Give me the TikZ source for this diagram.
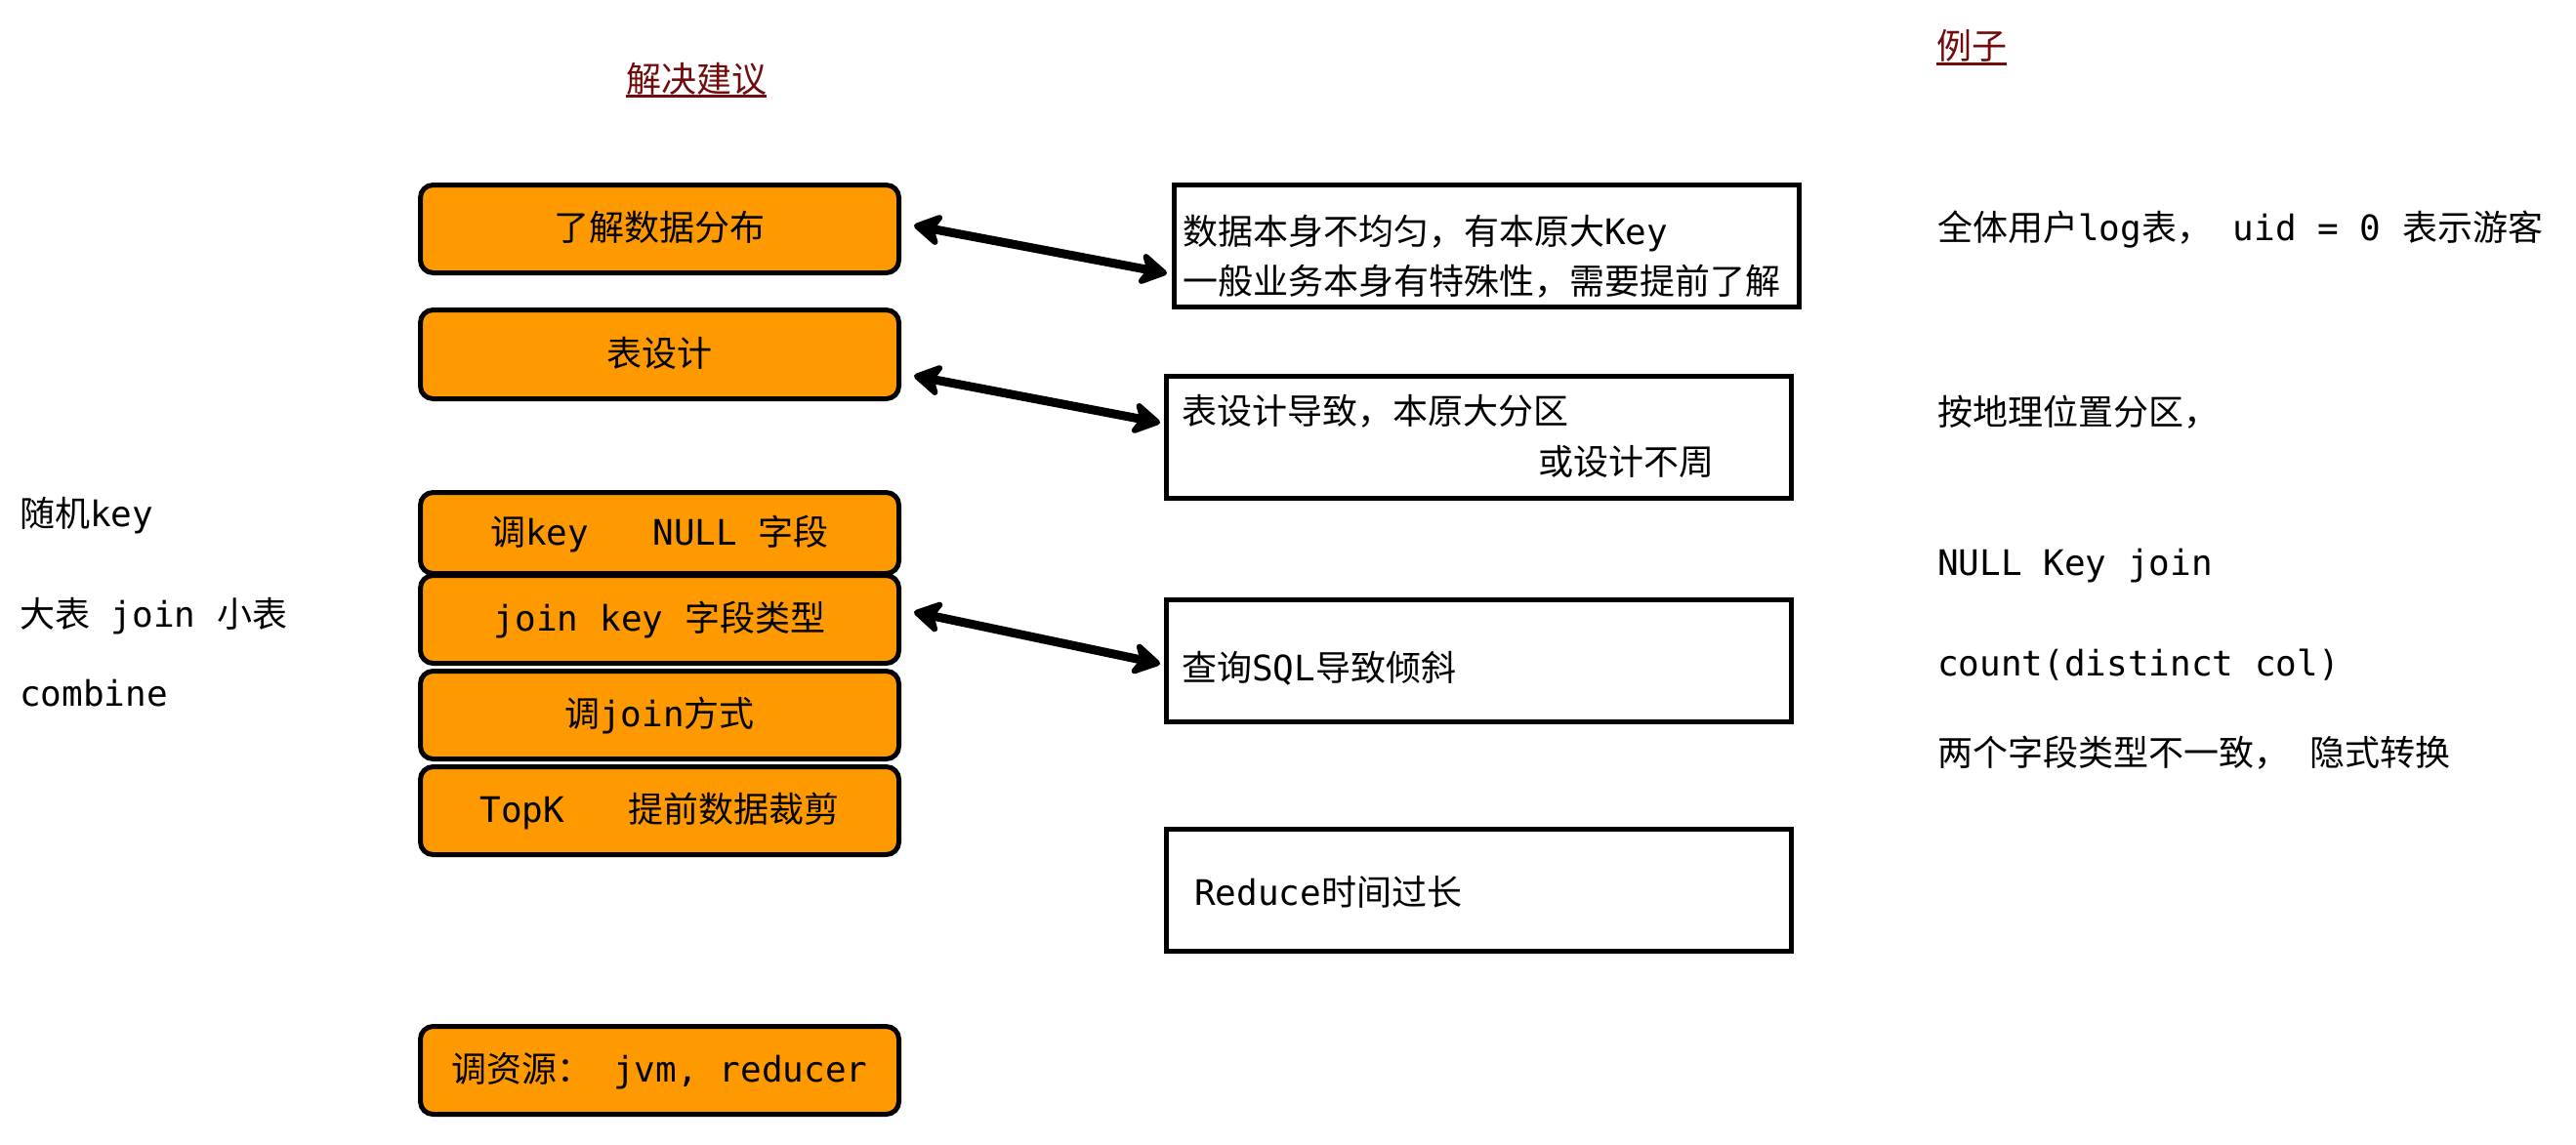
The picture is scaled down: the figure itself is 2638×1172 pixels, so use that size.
\documentclass[tikz,border=0pt]{standalone}
\usepackage{fontspec}
\setmainfont{DejaVu Sans Mono}
\newfontfamily\cjk{Noto Sans CJK SC}
\usetikzlibrary{arrows.meta}
\definecolor{boxorange}{RGB}{255,153,0}
\definecolor{titlered}{RGB}{112,12,12}
\newcommand\zh[1]{{\cjk #1}}
\newcommand\bigfont{\fontsize{36}{52}\selectfont}
\tikzset{
  obox/.style={draw=black, line width=5pt, fill=boxorange, rounded corners=13pt,
    minimum width=490pt, inner sep=0pt, font=\bigfont, text height=30pt, text depth=6pt},
  wbox/.style={draw=black, line width=5pt, fill=white, inner sep=0pt,
    minimum width=640pt, minimum height=125pt},
  txt/.style={inner sep=0pt, anchor=base west, font=\bigfont},
  ttl/.style={txt, text=titlered},
  uline/.style={draw=titlered, line width=3pt},
  dbl/.style={line width=9pt,
    {Stealth[length=34pt,width=40pt,inset=10pt,round]}-{Stealth[length=34pt,width=40pt,inset=10pt,round]}},
}
\begin{document}
\begin{tikzpicture}[x=1pt,y=-1pt]
\path[use as bounding box] (0,0) rectangle (2638,1172);

% titles
\node[ttl] (t1) at (641,94.5) {\zh{解决建议}};
\draw[uline] ([yshift=-4pt]t1.base west) -- ([yshift=-4pt]t1.base east);
\node[ttl] (t2) at (1983,61) {\zh{例子}};
\draw[uline] ([yshift=-5pt]t2.base west) -- ([yshift=-5pt]t2.base east);

% orange boxes
\node[obox, minimum height=90pt] (b1) at (675.5,234.5) {\zh{了解数据分布}};
\node[obox, minimum height=91pt] (b2) at (675.5,363) {\zh{表设计}};
\node[obox, minimum height=83pt] (b3) at (675.5,546) {\zh{调}key~~~NULL \zh{字段}};
\node[obox, minimum height=90pt] (b4) at (675.5,634.5) {join key \zh{字段类型}};
\node[obox, minimum height=90pt] (b5) at (675.5,732.5) {\zh{调}join\zh{方式}};
\node[obox, minimum height=90pt] (b6) at (675.5,830.5) {TopK~~~\zh{提前数据裁剪}};
\node[obox, minimum height=90pt] (b7) at (675.5,1096.5) {\zh{调资源：}~jvm, reducer};

% white boxes
\node[wbox] (w1) at (1522.5,252) {};
\node[wbox] (w2) at (1514.5,448) {};
\node[wbox] (w3) at (1514.5,677) {};
\node[wbox] (w4) at (1514.5,912) {};

\node[txt] (w1a) at (1211,250) {\zh{数据本身不均匀，有本原大}Key};
\node[txt] (w1b) at (1211,301) {\zh{一般业务本身有特殊性，需要提前了解}};
\node[txt] (w2a) at (1210,434) {\zh{表设计导致，本原大分区}};
\node[txt] (w2b) at (1575,486) {\zh{或设计不周}};
\node[txt] (w3t) at (1210,697) {\zh{查询}SQL\zh{导致倾斜}};
\node[txt] (w4t) at (1223,927) {Reduce\zh{时间过长}};

% arrows
\coordinate (a1l) at (936,231);  \coordinate (a1r) at (1195,280);
\coordinate (a2l) at (936,385);  \coordinate (a2r) at (1188,433);
\coordinate (a3l) at (936,627);  \coordinate (a3r) at (1188,680);
\draw[dbl] (a1l) -- (a1r);
\draw[dbl] (a2l) -- (a2r);
\draw[dbl] (a3l) -- (a3r);

% left notes
\node[txt] (l1) at (20,539) {\zh{随机}key};
\node[txt] (l2) at (20,642) {\zh{大表} join \zh{小表}};
\node[txt] (l3) at (20,723) {combine};

% right examples
\node[txt] (r1) at (1984,246) {\zh{全体用户}log\zh{表，}~uid = 0 \zh{表示游客}};
\node[txt] (r2) at (1984,435) {\zh{按地理位置分区，}};
\node[txt] (r3) at (1984,589) {NULL Key join};
\node[txt] (r4) at (1984,692) {count(distinct col)};
\node[txt] (r5) at (1984,784) {\zh{两个字段类型不一致，}~\zh{隐式转换}};
\end{tikzpicture}
\end{document}
